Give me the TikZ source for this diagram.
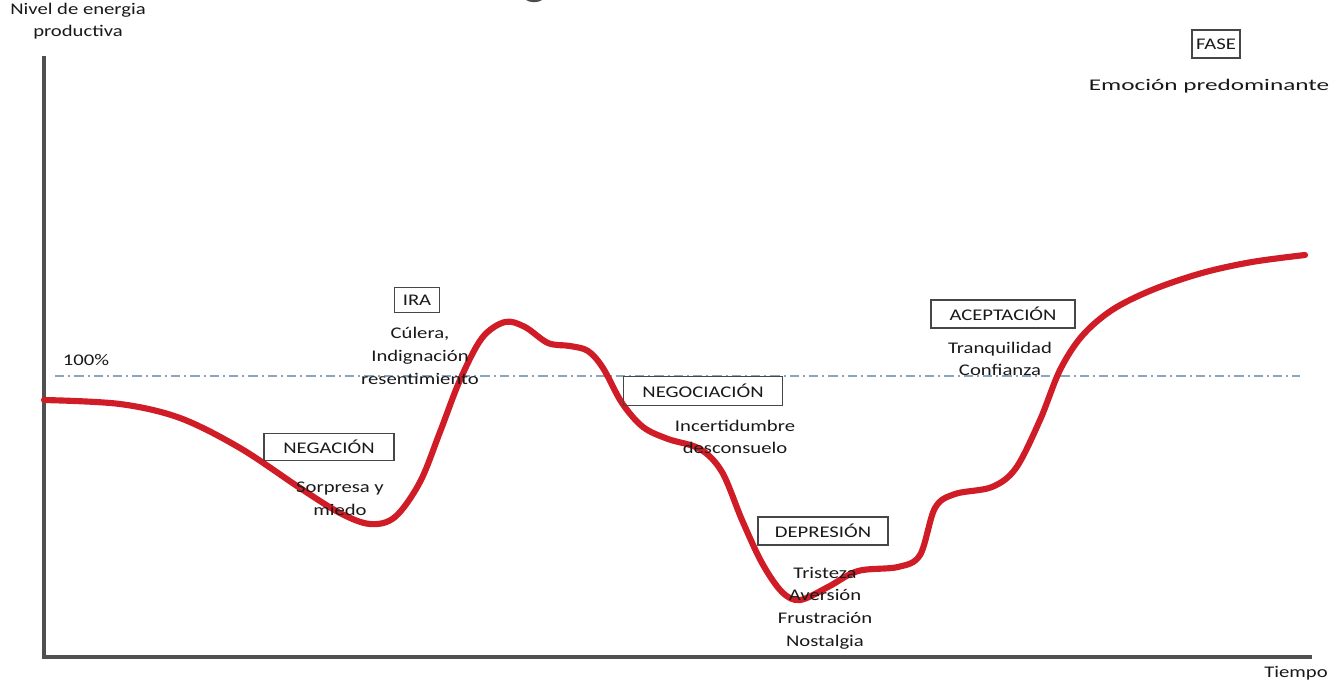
\documentclass[tikz,border=0pt]{standalone}
\usepackage{fontspec}
\setmainfont{Carlito}
\newfontfamily\lblfont{Carlito}[FakeStretch=1.27]
\newfontfamily\widefont{Carlito}[FakeStretch=1.55]
\definecolor{curvered}{RGB}{208,28,38}
\definecolor{axisgray}{RGB}{80,80,80}
\definecolor{refline}{RGB}{140,165,190}
\definecolor{boxgray}{RGB}{70,70,70}
\begin{document}
\begin{tikzpicture}[x=0.75pt,y=-0.75pt,
  lbl/.style={font=\lblfont\fontsize{12.2}{17}\selectfont, text=black!90, align=center, inner sep=0pt},
  phase/.style={draw=boxgray, line width=1.1pt, font=\lblfont\fontsize{12.2}{15}\selectfont, text=black!90, inner sep=0pt, minimum height=20pt},
  axis/.style={draw=axisgray, line width=3pt},
  curve/.style={draw=curvered, line width=4.6pt, line cap=round, line join=round}]
\useasboundingbox (0,0) rectangle (1331,681);
% cropped title fragment
\node[anchor=base, font=\fontsize{40}{40}\selectfont, text=black!70, inner sep=0pt] (title) at (535,-6) {g};
% axes
\coordinate (origin) at (44,657);
\coordinate (ytop) at (44,56);
\coordinate (xend) at (1312,657);
\draw[axis] (ytop) -- (origin) -- (xend);
% 100% reference line
\coordinate (r0) at (55,376);
\coordinate (r1) at (1300,376);
\draw[refline, line width=1.1pt, dash pattern=on 7pt off 3pt on 1.5pt off 3pt] (r0) -- (r1);
\node[lbl] (pct) at (86,360) {100\%};
% axis labels
\node[lbl] (ylab) at (78,21) {Nivel de energia\\productiva};
\node[lbl, anchor=east] (xlab) at (1328,673) {Tiempo};
% curve
\draw[curve] plot[smooth, tension=0.55] coordinates {
 (44,400) (120,404) (180,418) (240,448) (300,488) (340,513) (370,524) (395,517)
 (420,482) (440,432) (460,380) (482,338) (505,322) (525,327) (548,343) (570,346)
 (588,351) (603,368) (622,403) (643,427) (668,439) (700,449) (722,472) (742,520)
 (762,563) (782,592) (800,600) (828,587) (858,571) (898,567) (920,555) (935,508)
 (955,494) (992,487) (1016,468) (1040,420) (1060,370) (1082,336) (1112,310)
 (1152,290) (1202,273) (1252,262) (1305,255)};
% phases
\node[phase, minimum width=97.5pt] (neg) at (329,447) {NEGACIÓN};
\node[lbl] (negt) at (340,499) {Sorpresa y\\miedo};
\node[phase, minimum width=34pt, minimum height=19pt] (ira) at (417,300) {IRA};
\node[lbl] (irat) at (420,356) {Cúlera,\\Indignación\\resentimiento};
\node[phase, minimum width=119pt, minimum height=21.5pt] (nego) at (703,391) {NEGOCIACIÓN};
\node[lbl] (negot) at (735,437) {Incertidumbre\\desconsuelo};
\node[phase, minimum width=97.5pt, minimum height=21pt] (dep) at (823,531) {DEPRESIÓN};
\node[lbl] (dept) at (825,608) {Tristeza\\Aversión\\Frustración\\Nostalgia};
\node[phase, minimum width=108pt, minimum height=21pt] (acep) at (1003,314) {ACEPTACIÓN};
\node[lbl] (acept) at (1000,359) {Tranquilidad\\Confianza};
\node[phase, minimum width=36pt, minimum height=21pt] (fase) at (1216,44) {FASE};
\node[lbl, font=\widefont\fontsize{12.2}{17}\selectfont] (faset) at (1209,86) {Emoción predominante};
\end{tikzpicture}
\end{document}
